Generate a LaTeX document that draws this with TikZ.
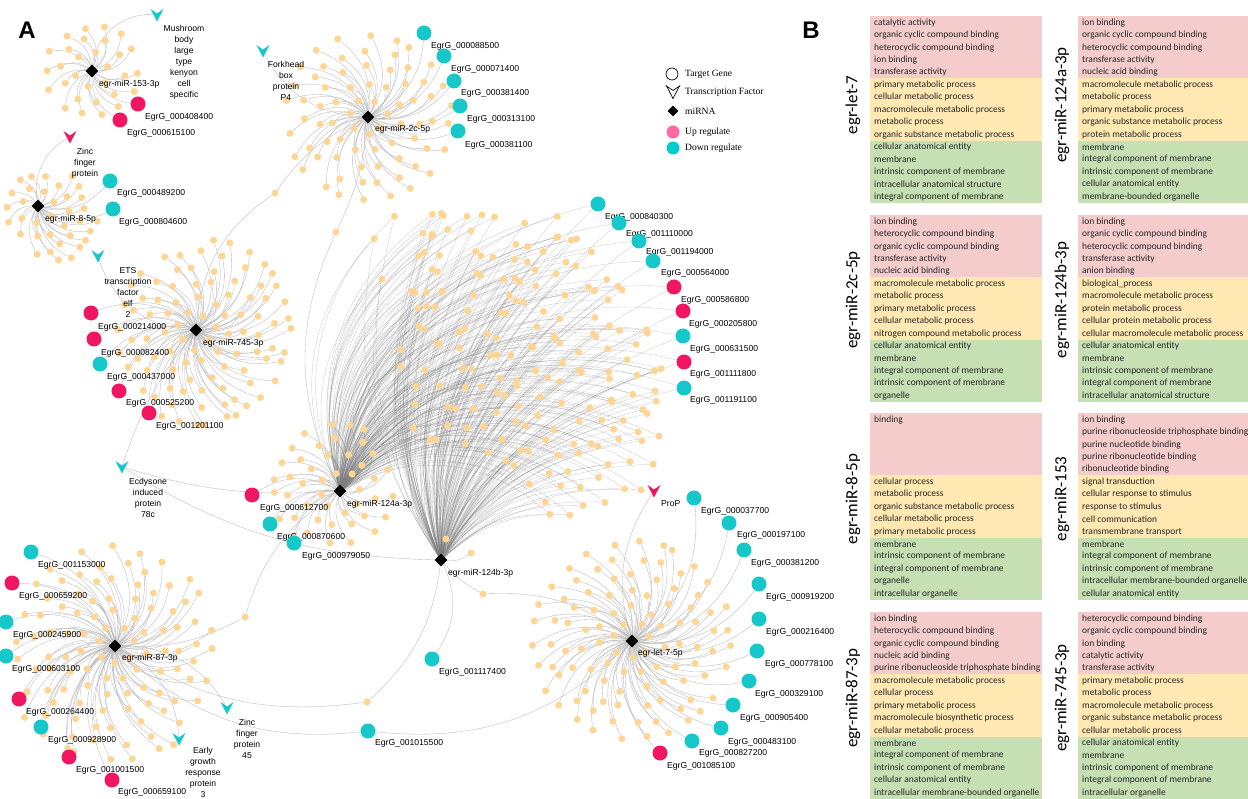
\documentclass[tikz,border=0pt]{standalone}
\usepackage{fontspec}
\setmainfont{Liberation Sans}
\newfontfamily\calfont{Carlito}
\newfontfamily\legfont{Liberation Serif}
\usetikzlibrary{shapes.geometric}
\pgfdeclarelayer{bg}
\pgfsetlayers{bg,main}
\definecolor{upc}{RGB}{240,22,98}
\definecolor{dnc}{RGB}{22,200,202}
\definecolor{dotc}{RGB}{253,214,150}
\definecolor{edgc}{RGB}{185,185,185}
\definecolor{fanc}{RGB}{125,125,125}
\definecolor{lupc}{RGB}{255,105,160}
\definecolor{ldnc}{RGB}{0,206,206}
\definecolor{bpink}{RGB}{244,204,204}
\definecolor{byel}{RGB}{255,232,178}
\definecolor{bgrn}{RGB}{198,224,180}
\tikzset{
  hub/.style={diamond, fill=black, inner sep=0pt, minimum size=13pt},
  dot/.style={circle, fill=dotc, inner sep=0pt, minimum size=7pt},
  upn/.style={circle, fill=upc, inner sep=0pt, minimum size=15pt},
  dnn/.style={circle, fill=dnc, inner sep=0pt, minimum size=15pt},
  edge/.style={draw=edgc, line width=0.35pt},
  fanedge/.style={draw=fanc, line width=0.3pt, opacity=0.42},
  lab/.style={font=\fontsize{8.6}{10}\selectfont, inner sep=0pt, anchor=west},
  tfl/.style={font=\fontsize{8.6}{11}\selectfont, align=center, inner sep=0pt},
  legt/.style={font=\legfont\fontsize{9.6}{11}\selectfont, inner sep=0pt, anchor=west},
  gotxt/.style={font=\calfont\fontsize{9.45}{11}\selectfont, inner sep=0pt, anchor=west, text=black!85},
  side/.style={font=\calfont\fontsize{17}{20}\selectfont, rotate=90, inner sep=0pt},
  big/.style={font=\bfseries\fontsize{24}{28}\selectfont, inner sep=0pt},
}
\newif\ifnodepass
\newcommand\cluster[3]{%
  \foreach \qr/\qn/\qa/\qb [count=\qk] in {#2}{%
    \foreach \qi in {1,...,\qn}{%
      \pgfmathsetmacro\qang{\qa+(\qb-\qa)*(\qi-0.5)/\qn+13*\qk+5*rand}%
      \pgfmathsetmacro\qrr{\qr+2.5*rand}%
      \ifnodepass
        \path (#1) ++(\qang:\qrr) node[dot] (#1-\qk-\qi) {};%
      \else
        \draw[edge] (#1) to[bend right=#3] (#1-\qk-\qi);%
      \fi
    }%
  }%
}
\newcommand\fan{%
\foreach \k in {0,...,13}{
  \pgfmathsetmacro\fr{118+19*\k}
  \pgfmathtruncatemacro\fn{round(\fr/19*1.3090)}
  \foreach \j in {0,...,\fn}{
    \pgfmathsetmacro\fth{262+75*\j/\fn+4*rand}
    \pgfmathsetmacro\frr{\fr+4*rand}
    \pgfmathsetmacro\frm{389-3*max(\fth-294,0)-22}
    \pgfmathsetmacro\fyy{560+\fr*sin(\fth)}
    \pgfmathtruncatemacro\fok{(\fr<=\frm)&&(\fyy>=214)}
    \ifnum\fok=1
      \ifnodepass
        \path (h124b) ++(\fth:\frr) node[dot] (f-\k-\j) {};
      \else
        \draw[fanedge] (h124a) to[bend left=35] (f-\k-\j);
        \draw[fanedge] (h124b) to[bend left=22] (f-\k-\j);
      \fi
    \fi
  }
}}
\newcommand\network{%
\cluster{h153}{17/6/0/360, 31/10/0/360, 45/14/0/360}{30}
\cluster{h8}{18/7/0/360, 31/13/0/360, 46/9/-90/60, 60/6/-45/25}{30}
\cluster{h2c}{18/7/0/360, 34/11/0/360, 50/15/0/360, 66/19/0/360, 82/22/0/360}{30}
\cluster{h745}{18/7/0/360, 33/11/0/360, 48/15/0/360, 63/19/0/360, 78/23/0/360, 93/20/200/400}{30}
\cluster{h124a}{20/8/0/360, 36/12/0/360, 52/15/0/360, 66/10/80/250}{30}
\cluster{h87}{18/7/0/360, 34/11/0/360, 50/15/0/360, 66/19/0/360, 82/23/0/360, 98/22/0/360, 114/8/-40/60}{30}
\cluster{hlet7}{18/7/0/360, 34/11/0/360, 50/15/0/360, 66/19/0/360, 82/23/0/360, 98/27/0/360}{30}
\fan}
\newcommand\gene[4]{\node[#2] (g#1) at (#3) {}; \node[lab] (g#1-t) at (#4) {EgrG\_#1};}
\newcommand\chevpath[1]{([shift={(-6.5pt,6pt)}]#1) -- ([shift={(0pt,-6.5pt)}]#1) -- ([shift={(6.5pt,6pt)}]#1) -- ([shift={(0pt,1.5pt)}]#1) -- cycle}
\newcommand\gobox[8]{%
  \fill[bpink] (#2,#3) rectangle (#4,#3+62.3);
  \fill[byel] (#2,#3+62.3) rectangle (#4,#3+124.6);
  \fill[bgrn] (#2,#3+124.6) rectangle (#4,#3+187);
  \foreach \gt [count=\gi] in {#8}{\node[gotxt] (#1-\gi) at (#2+4,#3+6.7+12.43*\gi-12.43) {\gt};}
  \node[side] (#1-s) at (#5,#6) {#7};
}
\begin{document}
\begin{tikzpicture}[x=1pt,y=-1pt]
\useasboundingbox (0,0) rectangle (1248,799);

% panel letters
\node[big] (pA) at (27,30) {A};
\node[big] (pB) at (811,30) {B};

% hubs
\node[hub] (h153) at (92,71) {};
\node[hub] (h8) at (38,206) {};
\node[hub] (h2c) at (368,117) {};
\node[hub] (h745) at (196,330) {};
\node[hub] (h124a) at (340,491) {};
\node[hub] (h124b) at (441,560) {};
\node[hub] (h87) at (115,646) {};
\node[hub] (hlet7) at (632,641) {};

% target genes (dots)
\nodepasstrue
\pgfmathsetseed{7}
\network

\node[lab] (l153) at (99,84) {egr-miR-153-3p};
\node[lab] (l8) at (45,219) {egr-miR-8-5p};
\node[lab] (l2c) at (375,129) {egr-miR-2c-5p};
\node[lab] (l745) at (203,343) {egr-miR-745-3p};
\node[lab] (l124a) at (347,504) {egr-miR-124a-3p};
\node[lab] (l124b) at (448,573) {egr-miR-124b-3p};
\node[lab] (l87) at (122,658) {egr-miR-87-3p};
\node[lab] (llet7) at (638,653) {egr-let-7-5p};

% shared genes
\node[dot] (x1) at (275,193) {};
\node[dot] (x2) at (336,232) {};
\node[dot] (x3) at (245,617) {};
\node[dot] (x4) at (367,702) {};
\node[dot] (x5) at (483,594) {};
\node[dot] (x6) at (446,539) {};
\node[dot] (x7) at (471,553) {};

% labelled genes
\gene{000408400}{upn}{138,104}{145,117}
\gene{000615100}{upn}{120,120}{127,133}
\gene{000489200}{dnn}{110,181}{117,193}
\gene{000804600}{dnn}{113,209}{119,222}
\gene{000088500}{dnn}{424,33}{431,46}
\gene{000071400}{dnn}{444,56}{451,69}
\gene{000381400}{dnn}{454,81}{461,93}
\gene{000313100}{dnn}{460,106}{467,119}
\gene{000381100}{dnn}{458,131}{465,145}
\gene{000214000}{upn}{91,313}{98,327}
\gene{000082400}{upn}{94,339}{101,353}
\gene{000437000}{dnn}{100,364}{107,377}
\gene{000525200}{upn}{119,391}{126,403}
\gene{001201100}{upn}{149,413}{156,426}
\gene{000612700}{upn}{252,495}{260,508}
\gene{000870600}{dnn}{270,524}{277,537}
\gene{000979050}{dnn}{294,543}{302,556}
\gene{000840300}{dnn}{598,204}{605,217}
\gene{001110000}{dnn}{619,223}{626,234}
\gene{001194000}{dnn}{639,241}{646,252}
\gene{000564000}{dnn}{653,261}{661,273}
\gene{000586800}{upn}{674,287}{681,300}
\gene{000205800}{upn}{683,311}{689,324}
\gene{000631500}{dnn}{683,336}{690,349}
\gene{001111800}{upn}{684,362}{690,374}
\gene{001191100}{dnn}{684,388}{690,400}
\gene{001117400}{dnn}{432,659}{439,672}
\gene{001015500}{dnn}{368,731}{375,743}
\gene{001153000}{dnn}{31,552}{38,565}
\gene{000659200}{upn}{12,583}{19,596}
\gene{000245900}{dnn}{6,622}{13,635}
\gene{000603100}{dnn}{6,656}{12,669}
\gene{000264400}{upn}{19,699}{26,712}
\gene{000928900}{dnn}{41,727}{48,740}
\gene{001001500}{upn}{69,757}{76,770}
\gene{000659100}{upn}{112,780}{118,792}
\gene{000037700}{dnn}{694,498}{701,511}
\gene{000197100}{dnn}{729,523}{737,535}
\gene{000381200}{dnn}{744,550}{751,563}
\gene{000919200}{dnn}{759,584}{766,597}
\gene{000216400}{dnn}{759,619}{766,632}
\gene{000778100}{dnn}{757,651}{765,664}
\gene{000329100}{dnn}{749,681}{755,694}
\gene{000905400}{dnn}{733,705}{740,718}
\gene{000483100}{dnn}{721,728}{728,742}
\gene{000827200}{dnn}{692,741}{699,753}
\gene{001085100}{upn}{660,753}{667,766}

% transcription factors
\node[coordinate] (tfM) at (157,15) {};
\node[coordinate] (tfZ) at (70,137) {};
\node[coordinate] (tfF) at (263,51) {};
\node[coordinate] (tfE) at (98,256) {};
\node[coordinate] (tfD) at (122,467) {};
\node[coordinate] (tfG) at (179,739) {};
\node[coordinate] (tfN) at (227,708) {};
\node[coordinate] (tfP) at (654,491) {};
\fill[dnc] \chevpath{tfM};
\fill[upc] \chevpath{tfZ};
\fill[dnc] \chevpath{tfF};
\fill[dnc] \chevpath{tfE};
\fill[dnc] \chevpath{tfD};
\fill[dnc] \chevpath{tfG};
\fill[dnc] \chevpath{tfN};
\fill[upc] \chevpath{tfP};
\node[tfl] (tfM-t) at (184,62) {Mushroom\\body\\large\\type\\kenyon\\cell\\specific};
\node[tfl] (tfZ-t) at (85,163) {Zinc\\finger\\protein};
\node[tfl] (tfF-t) at (286,81) {Forkhead\\box\\protein\\P4};
\node[tfl] (tfE-t) at (128,292) {ETS\\transcription\\factor\\elf\\2};
\node[tfl] (tfD-t) at (148,497.5) {Ecdysone\\induced\\protein\\78c};
\node[tfl] (tfG-t) at (203,772) {Early\\growth\\response\\protein\\3};
\node[tfl] (tfN-t) at (247,738.5) {Zinc\\finger\\protein\\45};
\node[lab] (tfP-t) at (661,504) {ProP};

% connectors (one background layer)
\begin{pgfonlayer}{bg}
\fill[white] (0,0) rectangle (1248,799);
\nodepassfalse
\pgfmathsetseed{7}
\network
\foreach \g in {000408400,000615100} \draw[edge] (h153) to[bend right=30] (g\g);
\foreach \g in {000489200,000804600} \draw[edge] (h8) to[bend right=30] (g\g);
\foreach \g in {000088500,000071400,000381400,000313100,000381100} \draw[edge] (h2c) to[bend right=30] (g\g);
\foreach \g in {000214000,000082400,000437000,000525200,001201100} \draw[edge] (h745) to[bend right=30] (g\g);
\foreach \g in {000612700,000870600,000979050} \draw[edge] (h124a) to[bend right=30] (g\g);
\foreach \g in {000840300,001110000,001194000,000564000,000586800,000205800,000631500,001111800,001191100}{
  \draw[fanedge] (h124a) to[bend left=35] (g\g);
  \draw[fanedge] (h124b) to[bend left=22] (g\g);
}
\foreach \g in {001153000,000659200,000245900,000603100,000264400,000928900,001001500,000659100} \draw[edge] (h87) to[bend right=30] (g\g);
\foreach \g in {000037700,000197100,000381200,000919200,000216400,000778100,000329100,000905400,000483100,000827200,001085100} \draw[edge] (hlet7) to[bend right=30] (g\g);
\draw[edge] (h124b) to[bend left=30] (g001117400);
\draw[edge] (h87) to[bend right=25] (g001015500);
\draw[edge] (hlet7) to[bend left=25] (g001015500);
\draw[edge] (h2c) to[bend right=15] (x1);
\draw[edge] (h745) to[bend left=25] (x1);
\draw[edge] (h2c) to[bend left=10] (x2);
\draw[edge] (h124a) to[bend left=25] (x2);
\draw[edge] (h87) to[bend right=15] (x3);
\draw[edge] (h124a) to[bend right=20] (x3);
\draw[edge] (h87) to[bend right=20] (x4);
\draw[edge] (h124b) to[bend left=20] (x4);
\draw[edge] (h124b) to[bend right=10] (x5);
\draw[edge] (hlet7) to[bend right=20] (x5);
\draw[edge] (h124b) to[bend right=20] (x6);
\draw[edge] (h124b) to[bend right=20] (x7);
\draw[edge] (h153) to[bend left=45] (tfM);
\draw[edge] (h8) to[bend left=35] (tfZ);
\draw[edge] (h2c) to[bend left=30] (tfF);
\draw[edge] (h745) to[bend left=35] (tfE);
\draw[edge] (h745) to[bend right=10] (tfD);
\draw[edge] (h124a) to[bend left=10] (tfD);
\draw[edge] (h124b) to[bend left=15] (tfD);
\draw[edge] (h87) to[bend left=30] (tfG);
\draw[edge] (h87) to[bend left=30] (tfN);
\draw[edge] (hlet7) to[bend left=25] (tfP);
\end{pgfonlayer}

% legend
\node[circle, draw, line width=0.7pt, minimum size=12pt, inner sep=0pt] (lg1) at (672,74) {};
\node[legt] (lg1t) at (685,74) {Target Gene};
\node[coordinate] (lg2) at (673,92) {};
\draw[line width=0.7pt] \chevpath{lg2};
\node[legt] (lg2t) at (685,92) {Transcription Factor};
\node[hub, minimum size=11pt] (lg3) at (673,111) {};
\node[legt] (lg3t) at (685,111) {miRNA};
\node[circle, fill=lupc, minimum size=13pt, inner sep=0pt] (lg4) at (673,132) {};
\node[legt] (lg4t) at (685,132) {Up regulate};
\node[circle, fill=ldnc, minimum size=13pt, inner sep=0pt] (lg5) at (673,148) {};
\node[legt] (lg5t) at (685,148) {Down regulate};

% panel B
\gobox{b1}{870}{16}{1042}{853}{105}{egr-let-7}{catalytic activity, organic cyclic compound binding, heterocyclic compound binding, ion binding, transferase activity, primary metabolic process, cellular metabolic process, macromolecule metabolic process, metabolic process, organic substance metabolic process, cellular anatomical entity, membrane, intrinsic component of membrane, intracellular anatomical structure, integral component of membrane}
\gobox{b2}{1078}{16}{1248}{1062}{105}{egr-miR-124a-3p}{ion binding, organic cyclic compound binding, heterocyclic compound binding, transferase activity, nucleic acid binding, macromolecule metabolic process, metabolic process, primary metabolic process, organic substance metabolic process, protein metabolic process, membrane, integral component of membrane, intrinsic component of membrane, cellular anatomical entity, membrane-bounded organelle}
\gobox{b3}{870}{215}{1042}{853}{300}{egr-miR-2c-5p}{ion binding, heterocyclic compound binding, organic cyclic compound binding, transferase activity, nucleic acid binding, macromolecule metabolic process, metabolic process, primary metabolic process, cellular metabolic process, nitrogen compound metabolic process, cellular anatomical entity, membrane, integral component of membrane, intrinsic component of membrane, organelle}
\gobox{b4}{1078}{215}{1248}{1062}{300}{egr-miR-124b-3p}{ion binding, organic cyclic compound binding, heterocyclic compound binding, transferase activity, anion binding, biological\_process, macromolecule metabolic process, protein metabolic process, cellular protein metabolic process, cellular macromolecule metabolic process, cellular anatomical entity, membrane, intrinsic component of membrane, integral component of membrane, intracellular anatomical structure}
\gobox{b5}{870}{413}{1042}{853}{499}{egr-miR-8-5p}{binding, {}, {}, {}, {}, cellular process, metabolic process, organic substance metabolic process, cellular metabolic process, primary metabolic process, membrane, intrinsic component of membrane, integral component of membrane, organelle, intracellular organelle}
\gobox{b6}{1078}{413}{1248}{1062}{499}{egr-miR-153}{ion binding, purine ribonucleoside triphosphate binding, purine nucleotide binding, purine ribonucleotide binding, ribonucleotide binding, signal transduction, cellular response to stimulus, response to stimulus, cell communication, transmembrane transport, membrane, integral component of membrane, intrinsic component of membrane, intracellular membrane-bounded organelle, cellular anatomical entity}
\gobox{b7}{870}{612}{1042}{853}{698}{egr-miR-87-3p}{ion binding, heterocyclic compound binding, organic cyclic compound binding, nucleic acid binding, purine ribonucleoside triphosphate binding, macromolecule metabolic process, cellular process, primary metabolic process, macromolecule biosynthetic process, cellular metabolic process, membrane, integral component of membrane, intrinsic component of membrane, cellular anatomical entity, intracellular membrane-bounded organelle}
\gobox{b8}{1078}{612}{1248}{1062}{698}{egr-miR-745-3p}{heterocyclic compound binding, organic cyclic compound binding, ion binding, catalytic activity, transferase activity, primary metabolic process, metabolic process, macromolecule metabolic process, organic substance metabolic process, cellular metabolic process, cellular anatomical entity, membrane, intrinsic component of membrane, integral component of membrane, intracellular organelle}
\end{tikzpicture}
\end{document}
